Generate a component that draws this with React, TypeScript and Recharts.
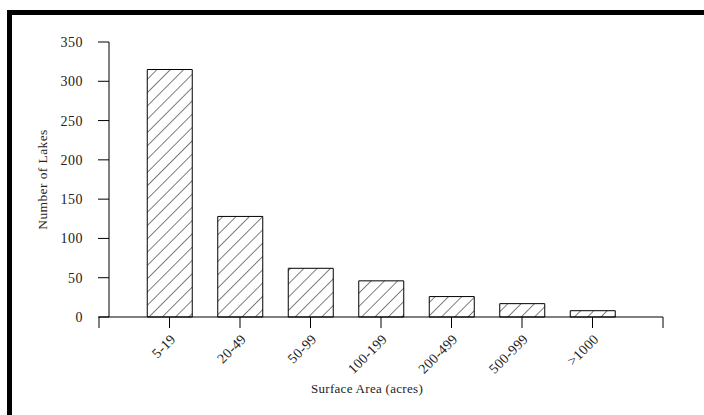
import React from 'react';
import { BarChart, Bar, XAxis, YAxis, Label } from 'recharts';

const categories = ['5-19', '20-49', '50-99', '100-199', '200-499', '500-999', '>1000'];
const lakeCounts = [315, 128, 62, 46, 26, 17, 8];
const xTicks = [0, 1, 2, 3, 4, 5, 6, 7, 8];
const yTicks = [0, 50, 100, 150, 200, 250, 300, 350];

const data = categories.map((name, i) => ({ pos: i + 1, name, count: lakeCounts[i] }));

const FONT = '"Liberation Serif", "Times New Roman", serif';

export default function App() {
  return (
    <div style={{ position: 'absolute', left: 0, top: 0, width: 704, height: 415, background: '#fff', overflow: 'hidden', fontFamily: FONT }}>
      <style>{`.recharts-yAxis { transform: translateX(10px); }`}</style>
      <div style={{ position: 'absolute', left: 7, top: 10, right: -10, bottom: -10, borderTop: '5px solid #000', borderLeft: '5px solid #000' }} />
      <div style={{ position: 'absolute', left: 0, top: 0 }}>
        <BarChart width={704} height={415} data={data} margin={{ top: 42, right: 41, left: 39, bottom: 18 }}>
          <defs>
            <pattern id="hatch" width="9.4" height="9.4" patternUnits="userSpaceOnUse" patternTransform="rotate(45)">
              <rect x="0" y="0" width="9.4" height="9.4" fill="#fff" />
              <line x1="0" y1="0" x2="0" y2="9.4" stroke="#000" strokeWidth="1" />
            </pattern>
          </defs>
          <XAxis
            dataKey="pos"
            type="number"
            domain={[0, 8]}
            ticks={xTicks}
            interval={0}
            height={80}
            tickSize={11}
            tickMargin={5}
            stroke="#000"
            axisLine={{ stroke: '#000', strokeWidth: 1 }}
            tickLine={{ stroke: '#000' }}
            tickFormatter={(v: number) => categories[v - 1] ?? ''}
            tick={{ angle: -45, textAnchor: 'end', verticalAnchor: 'middle', fill: '#222', fontSize: 14, fontFamily: FONT, letterSpacing: '0.3px' }}
          >
            <Label value="Surface Area (acres)" position="insideBottom" offset={4} dx={-14} style={{ fill: '#222', fontSize: 13, fontFamily: FONT, letterSpacing: '0.3px' }} />
          </XAxis>
          <YAxis
            type="number"
            domain={[0, 350]}
            ticks={yTicks}
            width={60}
            tickSize={11}
            tickMargin={5}
            axisLine={{ stroke: '#000', strokeWidth: 1 }}
            tickLine={{ stroke: '#000' }}
            tick={{ fill: '#222', fontSize: 14, fontFamily: FONT, letterSpacing: '0.5px' }}
          >
            <Label value="Number of Lakes" angle={-90} position="insideLeft" offset={3} style={{ textAnchor: 'middle', fill: '#222', fontSize: 13.5, fontFamily: FONT, letterSpacing: '0.4px' }} />
          </YAxis>
          <Bar dataKey="count" barSize={45} fill="url(#hatch)" stroke="#000" strokeWidth={1} isAnimationActive={false} />
        </BarChart>
      </div>
    </div>
  );
}
